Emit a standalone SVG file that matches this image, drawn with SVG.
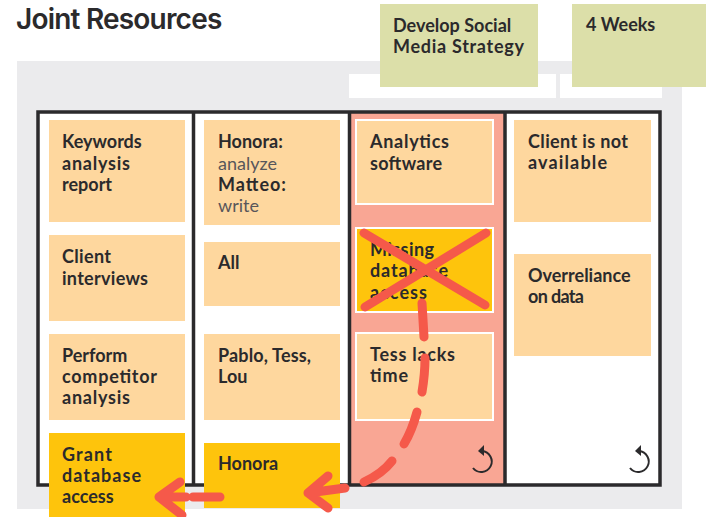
<svg xmlns="http://www.w3.org/2000/svg" width="706" height="517" viewBox="0 0 706 517">
<style>
.t{font-family:"Lato","Liberation Sans",sans-serif;font-size:18px;font-weight:700;fill:#2b2a2c}
.l{font-weight:400;fill:#58565a}
.o{fill:#fed79e}
.y{fill:#fec40c}
.g{fill:#dcdfa9}
.w{stroke:#fff;stroke-width:2}
.r{fill:none;stroke:#f5594a;stroke-width:9;stroke-linecap:round;stroke-linejoin:round}
.u{fill:none;stroke:#2b2a2c;stroke-width:2}
</style>
<rect width="706" height="517" fill="#fff"/>
<g id="board">
<rect x="17" y="61" width="665" height="448" fill="#ebebed"/>
<rect x="349" y="74" width="207" height="24" fill="#fff"/>
<rect x="560" y="74" width="102" height="24" fill="#fff"/>
<rect x="38" y="112" width="622" height="373" fill="#fff"/>
<rect x="350" y="112" width="154" height="373" fill="#f9a694"/>
<path d="M38 112H660V485H38ZM193.500 112V485M349.500 112V485M505 112V485" fill="none" stroke="#2b2a2c" stroke-width="3.500"/>
</g>
<text x="16" y="29" font-family="Inter,'Liberation Sans',sans-serif" font-size="28" font-weight="600" letter-spacing="-0.8" fill="#2b2a2c">Joint Resources</text>
<g id="n1"><rect class="g" x="380" y="4" width="158" height="83"/><text class="t" x="393" y="32">Develop Social</text><text class="t" x="393" y="53" textLength="131">Media Strategy</text></g>
<g id="n2"><rect class="g" x="572" y="4" width="134" height="83"/><text class="t" x="586" y="31">4 Weeks</text></g>
<g id="n3"><rect class="o" x="49" y="120" width="136" height="102"/><text class="t" x="62" y="148">Keywords</text><text class="t" x="62" y="170" textLength="68">analysis</text><text class="t" x="62" y="191">report</text></g>
<g id="n4"><rect class="o" x="49" y="235" width="136" height="86"/><text class="t" x="62" y="263" textLength="49">Client</text><text class="t" x="62" y="285" textLength="86">interviews</text></g>
<g id="n5"><rect class="o" x="49" y="334" width="136" height="86"/><text class="t" x="62" y="362">Perform</text><text class="t" x="62" y="383" textLength="95">competitor</text><text class="t" x="62" y="404" textLength="68">analysis</text></g>
<g id="n6"><rect class="y" x="49" y="433" width="136" height="84"/><text class="t" x="62" y="461" textLength="50">Grant</text><text class="t" x="62" y="482" textLength="79">database</text><text class="t" x="62" y="503">access</text></g>
<g id="n7"><rect class="o" x="204" y="120" width="136" height="105"/><text class="t" x="218" y="148">Honora:</text><text class="t l" x="218" y="170">analyze</text><text class="t" x="218" y="191" textLength="68">Matteo:</text><text class="t l" x="218" y="212">write</text></g>
<g id="n8"><rect class="o" x="204" y="242" width="136" height="64"/><text class="t" x="218" y="269">All</text></g>
<g id="n9"><rect class="o" x="204" y="334" width="136" height="86"/><text class="t" x="218" y="362" textLength="93">Pablo, Tess,</text><text class="t" x="218" y="383">Lou</text></g>
<g id="n10"><rect class="y" x="204" y="443" width="136" height="65"/><text class="t" x="218" y="470">Honora</text></g>
<g id="n11"><rect class="o w" x="356" y="120" width="137" height="84"/><text class="t" x="370" y="148" textLength="79">Analytics</text><text class="t" x="370" y="170" textLength="72">software</text></g>
<g id="n12"><rect class="y w" x="356" y="228" width="137" height="84"/><text class="t" x="370" y="256" textLength="64">Missing</text><text class="t" x="370" y="277" textLength="78">database</text><text class="t" x="370" y="299" textLength="57">access</text></g>
<g id="n13"><rect class="o w" x="356" y="333" width="137" height="87"/><text class="t" x="370" y="361" textLength="85">Tess lacks</text><text class="t" x="370" y="382" textLength="38">time</text></g>
<g id="n14"><rect class="o" x="514" y="120" width="137" height="102"/><text class="t" x="528" y="148" textLength="100">Client is not</text><text class="t" x="528" y="169" textLength="79">available</text></g>
<g id="n15"><rect class="o" x="514" y="254" width="137" height="102"/><text class="t" x="528" y="282">Overreliance</text><text class="t" x="528" y="303" textLength="56">on data</text></g>
<g id="icons">
<path class="u" d="M482 451A10.500 10.500 0 1 1 473 468"/><path d="M478 451L484 445L484 456Z" fill="#2b2a2c"/>
<path class="u" d="M639 451A10.500 10.500 0 1 1 630 468"/><path d="M635 451L641 445L641 456Z" fill="#2b2a2c"/>
</g>
<g id="connectors">
<path class="r" d="M364 233L485 305M486 233L365 307"/>
<path class="r" d="M422 303L424 337M425 358C425 370 424 380 422 392M417 412C414 423 410 434 404 444M392 461C385 470 375 477 364 482"/>
<path class="r" d="M345 488L308 493M328 476L308 493L328 508"/>
<path class="r" d="M220 497H193M186 497H159M180 482L159 497L182 515"/>
</g>
</svg>
